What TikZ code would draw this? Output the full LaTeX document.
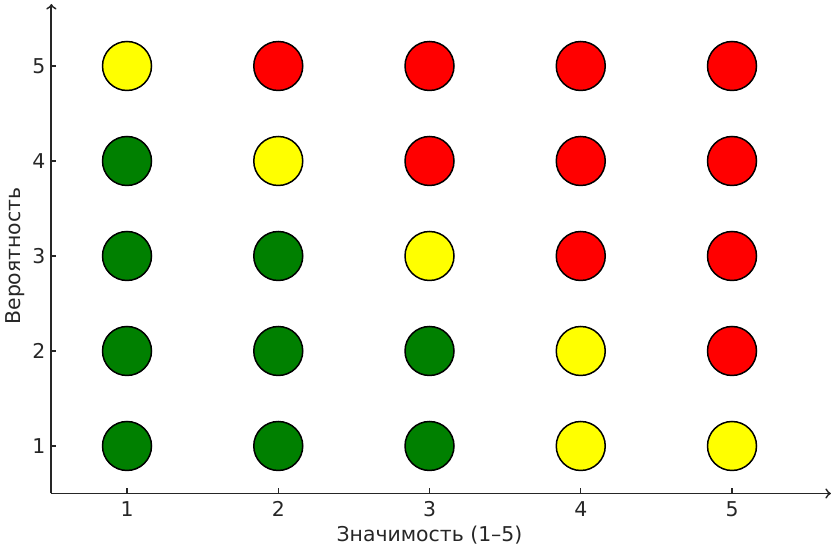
\documentclass[tikz,border=0pt]{standalone}
\usepackage{fontspec}
\setmainfont{DejaVu Sans}
\usepackage{tikz}
\usetikzlibrary{arrows, positioning}
\definecolor{axisGray}{HTML}{262626}
\definecolor{riskGreen}{HTML}{008000}
\definecolor{riskYellow}{HTML}{FFFF00}
\definecolor{riskRed}{HTML}{FF0000}

\begin{document}
\begin{tikzpicture}[
    x=75.625pt, y=47.5pt,
    dot/.style={circle, draw=black, line width=0.75pt, minimum size=24.5pt, inner sep=0pt},
    arrow/.style={->, >=to, line width=0.9pt, draw=axisGray},
    tickmark/.style={line width=0.6pt, draw=axisGray},
    lbl/.style={font=\fontsize{10.2}{12}\selectfont, text=axisGray},
]
    \useasboundingbox (0.1603,-0.0526) rectangle (5.6678,5.6947);

    % axes
    \coordinate (origin) at (0.5,0.5);
    \coordinate (xend) at (5.654,0.5);
    \coordinate (yend) at (0.5,5.653);
    \draw[arrow] (origin) -- (xend);
    \draw[arrow] (origin) -- (yend);

    % ticks
    \draw[tickmark] (1,0.5) -- ++(0,2.5pt);
    \draw[tickmark] (2,0.5) -- ++(0,2.5pt);
    \draw[tickmark] (3,0.5) -- ++(0,2.5pt);
    \draw[tickmark] (4,0.5) -- ++(0,2.5pt);
    \draw[tickmark] (5,0.5) -- ++(0,2.5pt);
    \draw[tickmark] (0.5,1) -- ++(2.5pt,0);
    \draw[tickmark] (0.5,2) -- ++(2.5pt,0);
    \draw[tickmark] (0.5,3) -- ++(2.5pt,0);
    \draw[tickmark] (0.5,4) -- ++(2.5pt,0);
    \draw[tickmark] (0.5,5) -- ++(2.5pt,0);

    \node[lbl] (tx1) at (1,0.337) {1};
    \node[lbl] (tx2) at (2,0.337) {2};
    \node[lbl] (tx3) at (3,0.337) {3};
    \node[lbl] (tx4) at (4,0.337) {4};
    \node[lbl] (tx5) at (5,0.337) {5};
    \node[lbl] (ty1) at (0.418,1) {1};
    \node[lbl] (ty2) at (0.418,2) {2};
    \node[lbl] (ty3) at (0.418,3) {3};
    \node[lbl] (ty4) at (0.418,4) {4};
    \node[lbl] (ty5) at (0.418,5) {5};

    \node[lbl] (xlabel) at (3,0.063) {Значимость (1–5)};
    \node[lbl, rotate=90] (ylabel) at (0.2595,3) {Вероятность};

    % risk points
    \node[dot, fill=riskYellow] (p15) at (1,5) {};
    \node[dot, fill=riskRed] (p25) at (2,5) {};
    \node[dot, fill=riskRed] (p35) at (3,5) {};
    \node[dot, fill=riskRed] (p45) at (4,5) {};
    \node[dot, fill=riskRed] (p55) at (5,5) {};

    \node[dot, fill=riskGreen] (p14) at (1,4) {};
    \node[dot, fill=riskYellow] (p24) at (2,4) {};
    \node[dot, fill=riskRed] (p34) at (3,4) {};
    \node[dot, fill=riskRed] (p44) at (4,4) {};
    \node[dot, fill=riskRed] (p54) at (5,4) {};

    \node[dot, fill=riskGreen] (p13) at (1,3) {};
    \node[dot, fill=riskGreen] (p23) at (2,3) {};
    \node[dot, fill=riskYellow] (p33) at (3,3) {};
    \node[dot, fill=riskRed] (p43) at (4,3) {};
    \node[dot, fill=riskRed] (p53) at (5,3) {};

    \node[dot, fill=riskGreen] (p12) at (1,2) {};
    \node[dot, fill=riskGreen] (p22) at (2,2) {};
    \node[dot, fill=riskGreen] (p32) at (3,2) {};
    \node[dot, fill=riskYellow] (p42) at (4,2) {};
    \node[dot, fill=riskRed] (p52) at (5,2) {};

    \node[dot, fill=riskGreen] (p11) at (1,1) {};
    \node[dot, fill=riskGreen] (p21) at (2,1) {};
    \node[dot, fill=riskGreen] (p31) at (3,1) {};
    \node[dot, fill=riskYellow] (p41) at (4,1) {};
    \node[dot, fill=riskYellow] (p51) at (5,1) {};
\end{tikzpicture}
\end{document}
